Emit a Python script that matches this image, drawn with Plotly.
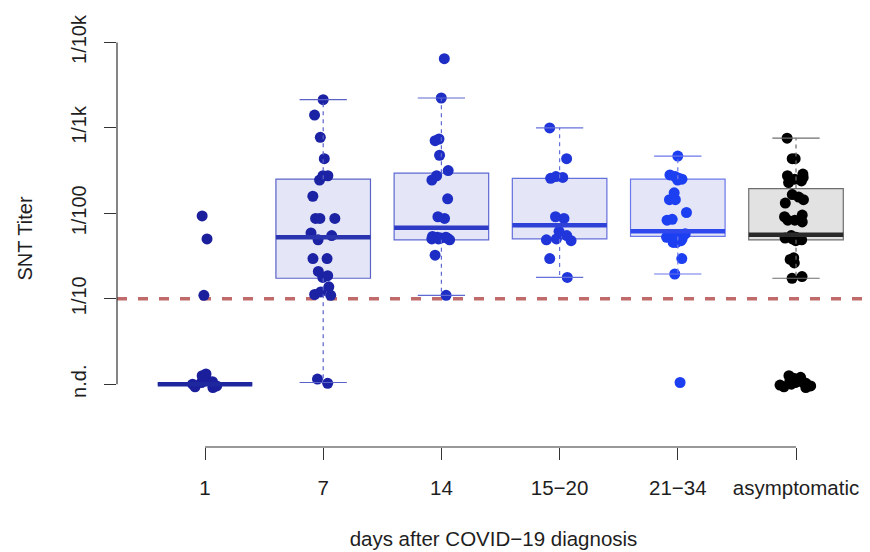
import plotly.graph_objects as go

# ---------------- data ----------------
categories = ["1", "7", "14", "15−20", "21−34", "asymptomatic"]
positions = [1, 2, 3, 4, 5, 6]

y_tickvals = [0, 1, 2, 3, 4]
y_ticktext = ["n.d.", "1/10", "1/100", "1/1k", "1/10k"]
threshold = 1  # 1/10 detection limit (log10 reciprocal titer)

# log10 of reciprocal SNT titer per sample (n.d. plotted at 0)
titer_day1 = [1.97, 1.70, 1.04, 0.12, 0.08, 0.10, 0.04, 0.02, 0.00, -0.02, -0.04, 0.06, -0.03, 0.03]
titer_day7 = [3.33, 3.15, 2.89, 2.64, 2.44, 2.44, 2.39, 2.20, 1.94, 1.94, 1.94, 1.77, 1.74, 1.69,
              1.47, 1.47, 1.32, 1.27, 1.25, 1.14, 1.08, 1.05, 1.04, 0.06, 0.01]
titer_day14 = [3.81, 3.35, 2.87, 2.85, 2.68, 2.50, 2.44, 2.39, 2.17, 1.96, 1.94, 1.73, 1.72, 1.71,
               1.71, 1.70, 1.70, 1.69, 1.72, 1.51, 1.04]
titer_day15_20 = [3.00, 2.64, 2.43, 2.42, 2.41, 1.96, 1.94, 1.79, 1.74, 1.70, 1.69, 1.68, 1.47, 1.25]
titer_day21_34 = [2.67, 2.45, 2.43, 2.41, 2.40, 2.39, 2.24, 2.16, 2.16, 2.01, 1.93, 1.92, 1.76, 1.74,
                  1.72, 1.70, 1.70, 1.68, 1.66, 1.66, 1.72, 1.75, 1.47, 1.29, 0.02]
titer_asymptomatic = [2.88, 2.64, 2.64, 2.46, 2.44, 2.42, 2.40, 2.38, 2.36, 2.22, 2.19, 2.16, 2.12,
                      1.98, 1.96, 1.92, 1.92, 1.90, 1.74, 1.72, 1.71, 1.70, 1.70, 1.69, 1.68, 1.46,
                      1.48, 1.42, 1.26, 1.24,
                      0.10, 0.08, 0.06, 0.05, 0.03, 0.02, 0.00, -0.01, -0.03, -0.04, 0.04, 0.07, 0.01, -0.02]

box_q1 = [0, 1.24, 1.69, 1.70, 1.73, 1.69]
box_median = [0, 1.72, 1.83, 1.86, 1.79, 1.75]
box_q3 = [0, 2.40, 2.47, 2.41, 2.40, 2.29]
box_lower = [0, 0.02, 1.04, 1.25, 1.29, 1.24]
box_upper = [0, 3.33, 3.35, 3.00, 2.67, 2.88]

groups = [titer_day1, titer_day7, titer_day14, titer_day15_20, titer_day21_34, titer_asymptomatic]

# ---------------- styles ----------------
point_colors = ["#1b1f9c", "#1c22a4", "#1e2ec4", "#2036da", "#1d3ff2", "#000000"]
median_colors = ["#1f279e", "#2a34ae", "#2c3ac6", "#2f42d8", "#2f48ee", "#2a2a2a"]
border_colors = ["#5a62c8", "#5a62c8", "#5d68d2", "#6470dc", "#6a78ea", "#6e6e6e"]
fill_colors = ["#e4e6f7", "#e4e6f7", "#e4e6f7", "#e4e6f7", "#e4e6f7", "#e2e2e2"]
FONT = "Liberation Sans, Arial, sans-serif"
BOX_W = 0.8
CAP_HALF = 0.2

fig = go.Figure()

for i, pos in enumerate(positions):
    fig.add_trace(go.Box(
        x=[pos], q1=[box_q1[i]], median=[box_median[i]], q3=[box_q3[i]],
        lowerfence=[box_q1[i]], upperfence=[box_q3[i]],
        width=BOX_W, fillcolor=fill_colors[i],
        line=dict(color=border_colors[i], width=1.2),
        whiskerwidth=0, boxpoints=False, hoverinfo="skip", showlegend=False,
    ))
    # dashed whiskers
    fig.add_trace(go.Scatter(
        x=[pos, pos, None, pos, pos],
        y=[box_q3[i], box_upper[i], None, box_q1[i], box_lower[i]],
        mode="lines", line=dict(color=border_colors[i], width=1.2, dash="4px,4px"),
        hoverinfo="skip", showlegend=False,
    ))
    # staples
    fig.add_trace(go.Scatter(
        x=[pos - CAP_HALF, pos + CAP_HALF, None, pos - CAP_HALF, pos + CAP_HALF],
        y=[box_upper[i], box_upper[i], None, box_lower[i], box_lower[i]],
        mode="lines", line=dict(color=border_colors[i], width=1.2),
        hoverinfo="skip", showlegend=False,
    ))
    # thick median
    fig.add_trace(go.Scatter(
        x=[pos - BOX_W / 2, pos + BOX_W / 2], y=[box_median[i], box_median[i]],
        mode="lines", line=dict(color=median_colors[i], width=4.5),
        hoverinfo="skip", showlegend=False,
    ))

for i, pos in enumerate(positions):
    vals = groups[i]
    fig.add_trace(go.Box(
        x=[pos] * len(vals), y=vals, width=BOX_W,
        boxpoints="all", jitter=0.4 if i == 5 else 0.33, pointpos=0,
        fillcolor="rgba(0,0,0,0)", line=dict(width=0, color="rgba(0,0,0,0)"),
        marker=dict(color=point_colors[i], size=11, line=dict(width=0)),
        showlegend=False, name=categories[i],
    ))

# detection limit
fig.add_shape(type="line", xref="paper", x0=0, x1=1, yref="y", y0=threshold, y1=threshold,
              line=dict(color="#c06a6a", width=3.5, dash="10px,11px"), layer="below")
# R-style axis lines spanning tick range
fig.add_shape(type="line", xref="paper", x0=0, x1=0, yref="y", y0=y_tickvals[0], y1=y_tickvals[-1],
              line=dict(color="#333333", width=1.2))
fig.add_shape(type="line", xref="x", x0=positions[0], x1=positions[-1], yref="paper", y0=0, y1=0,
              line=dict(color="#333333", width=1.2))

# page body has an 8px margin, so the figure is 8px smaller on each axis
fig.update_layout(
    width=862, height=544,
    margin=dict(l=109, r=0, t=22, b=105, autoexpand=False),
    paper_bgcolor="white", plot_bgcolor="white",
    font=dict(family=FONT, size=20, color="#1e1e1e"),
    boxmode="overlay",
    xaxis=dict(
        range=[0.2555, 6.626], tickmode="array", tickvals=positions, ticktext=categories,
        ticks="outside", ticklen=12, tickwidth=1.2, tickcolor="#333333",
        showline=False, showgrid=False, zeroline=False,
        tickfont=dict(size=20.5), ticklabelstandoff=10,
        title=dict(text="days after COVID−19 diagnosis", font=dict(size=20.5), standoff=34),
    ),
    yaxis=dict(
        range=[-0.735, 4.146], tickmode="array", tickvals=y_tickvals, ticktext=y_ticktext,
        ticks="outside", ticklen=12, tickwidth=1.2, tickcolor="#333333", tickangle=-90,
        showline=False, showgrid=False, zeroline=False,
        tickfont=dict(size=20), ticklabelstandoff=10,
        title=dict(text="SNT Titer", font=dict(size=20), standoff=30),
    ),
)

fig.write_html("out.html")
